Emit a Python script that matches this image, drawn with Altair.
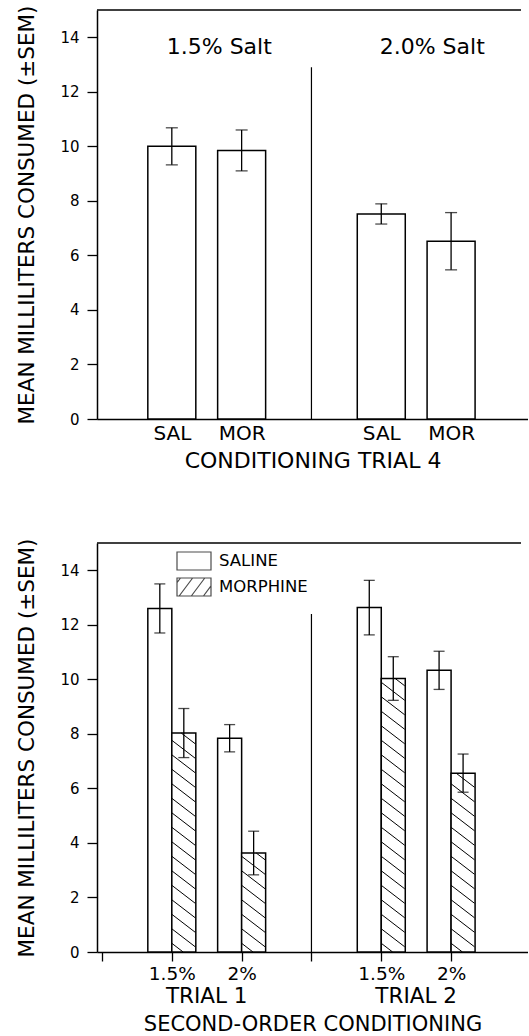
import altair as alt
import pandas as pd

# ---------------- data ----------------
top_pos = [1, 2, 4, 5]
top_drug = ["SAL", "MOR", "SAL", "MOR"]
top_mean = [10.0, 9.85, 7.52, 6.52]
top_sem = [0.68, 0.75, 0.37, 1.05]
top_titles = ["1.5% Salt", "2.0% Salt"]
top_title_pos = [1.68, 4.73]

bot_pos = [1, 2, 4, 5]
bot_conc = ["1.5%", "2%", "1.5%", "2%"]
sal_mean = [12.6, 7.84, 12.63, 10.33]
sal_sem = [0.9, 0.5, 1.0, 0.7]
mor_mean = [8.03, 3.63, 10.03, 6.56]
mor_sem = [0.9, 0.8, 0.8, 0.7]
trial_labels = ["TRIAL 1", "TRIAL 2"]
trial_pos = [1.5, 4.5]
treatments = ["SALINE", "MORPHINE"]

divider_pos = [3, 3]
divider_top = [12.9, 12.4]

y_ticks = [0, 2, 4, 6, 8, 10, 12, 14]

# ---------------- layout / style ----------------
W, H = 431, 409
XMAX, YMAX = 6.03, 15
KX, KY = W / XMAX, H / YMAX
FONT = "DejaVu Sans"
BAR_TOP = 48
BAR_BOT = 24
HATCH_GAP = 14.5
HATCH_DROP = 18.0
SPACING = 67
PANEL_SHIFT = H + 62 + SPACING  # vertical offset of the lower plot from the upper one
SYM = 18  # legend symbol height (px)

xs = alt.Scale(domain=[0, XMAX], nice=False, zero=False)
ys = alt.Scale(domain=[0, YMAX], nice=False)


def label_expr(positions, labels):
    expr = "''"
    for p, l in zip(positions, labels):
        expr = f"datum.value == {p} ? '{l}' : ({expr})"
    return expr


y_axis = alt.Axis(values=y_ticks, tickSize=10, tickWidth=1.3, domainWidth=1.5,
                  labelFontSize=15, labelPadding=8, titleFontSize=21.5,
                  titlePadding=21, grid=False,
                  title="MEAN MILLILITERS CONSUMED (±SEM)")

# ---------------- top panel ----------------
top_df = pd.DataFrame({"pos": top_pos, "drug": top_drug, "mean": top_mean, "sem": top_sem})
top_df["lo"] = top_df["mean"] - top_df["sem"]
top_df["hi"] = top_df["mean"] + top_df["sem"]

x_axis_top = alt.Axis(values=top_pos, labelExpr=label_expr(top_pos, top_drug), tickSize=0,
                      domainWidth=1.5, labelFontSize=20, labelPadding=4, labelFlush=False,
                      titleFontSize=22, titlePadding=7, grid=False,
                      title="CONDITIONING TRIAL 4")

top_bars = alt.Chart(top_df).mark_bar(size=BAR_TOP, fill="white", stroke="black",
                                      strokeWidth=1.5).encode(
    x=alt.X("pos:Q", scale=xs, axis=x_axis_top),
    y=alt.Y("mean:Q", scale=ys, axis=y_axis),
)
top_err = alt.Chart(top_df).mark_rule(color="black", strokeWidth=1.3).encode(
    x="pos:Q", y="lo:Q", y2="hi:Q")
top_caps = alt.Chart(top_df).transform_fold(["lo", "hi"], as_=["k", "v"]).mark_tick(
    orient="horizontal", size=12, thickness=1.3, color="black").encode(
    x="pos:Q", y="v:Q")


def frame_layers(idx):
    div_df = pd.DataFrame({"x": [divider_pos[idx]], "y0": [0], "top": [divider_top[idx]]})
    div = alt.Chart(div_df).mark_rule(color="black", strokeWidth=1.2).encode(
        x="x:Q", y="y0:Q", y2="top:Q")
    border = alt.Chart(div_df).mark_rule(color="black", strokeWidth=1.5).encode(
        x=alt.value(0), x2=alt.value(W - 7), y=alt.value(0))
    return div, border


t_div, t_border = frame_layers(0)
title_df = pd.DataFrame({"x": top_title_pos, "t": top_titles})
top_titles_layer = alt.Chart(title_df).mark_text(fontSize=22, font=FONT, baseline="middle").encode(
    x="x:Q", text="t:N", y=alt.value(37))

top_chart = alt.layer(top_bars, top_err, top_caps, t_div, t_border, top_titles_layer).properties(
    width=W, height=H)

# ---------------- bottom panel ----------------
sal_df = pd.DataFrame({"pos": bot_pos, "mean": sal_mean, "sem": sal_sem})
mor_df = pd.DataFrame({"pos": bot_pos, "mean": mor_mean, "sem": mor_sem})
for d in (sal_df, mor_df):
    d["lo"] = d["mean"] - d["sem"]
    d["hi"] = d["mean"] + d["sem"]

x_axis_bot = alt.Axis(values=[0, 1, 2, 3, 4, 5], labelExpr=label_expr(bot_pos, bot_conc),
                      tickSize=9, tickWidth=1.3, domainWidth=1.5, labelFontSize=18.5,
                      labelPadding=3, labelFlush=False, titleFontSize=21,
                      titlePadding=31, grid=False, title="SECOND-ORDER CONDITIONING")

# hatch segments derived from the morphine bar heights
segs = []
slope = HATCH_DROP / BAR_BOT
for p, v in zip(bot_pos, mor_mean):
    T = v * KY
    c = HATCH_GAP * 0.6
    while c - HATCH_DROP < T:
        x1, y1 = 0.0, c
        x2, y2 = BAR_BOT, c - HATCH_DROP
        if y1 > T:
            x1 = (y1 - T) / slope
            y1 = T
        if y2 < 0:
            x2 = c / slope
            y2 = 0.0
        if x2 > x1:
            segs.append({"x1": p + x1 / KX, "y1": y1 / KY, "x2": p + x2 / KX, "y2": y2 / KY})
        c += HATCH_GAP
hatch_df = pd.DataFrame(segs)

sal_bars = alt.Chart(sal_df).mark_bar(size=BAR_BOT, xOffset=-BAR_BOT / 2, fill="white",
                                      stroke="black", strokeWidth=1.5).encode(
    x=alt.X("pos:Q", scale=xs, axis=x_axis_bot),
    y=alt.Y("mean:Q", scale=ys, axis=y_axis),
)
mor_bars = alt.Chart(mor_df).mark_bar(size=BAR_BOT, xOffset=BAR_BOT / 2, fill="white",
                                      stroke="black", strokeWidth=1.5).encode(
    x="pos:Q", y="mean:Q")
hatch = alt.Chart(hatch_df).mark_rule(color="black", strokeWidth=1).encode(
    x="x1:Q", y="y1:Q", x2="x2:Q", y2="y2:Q")


def err_layers(df, off):
    r = alt.Chart(df).mark_rule(color="black", strokeWidth=1.3, xOffset=off).encode(
        x="pos:Q", y="lo:Q", y2="hi:Q")
    c = alt.Chart(df).transform_fold(["lo", "hi"], as_=["k", "v"]).mark_tick(
        orient="horizontal", size=11, thickness=1.3, color="black", xOffset=off).encode(
        x="pos:Q", y="v:Q")
    return r, c


sal_r, sal_c = err_layers(sal_df, -BAR_BOT / 2)
mor_r, mor_c = err_layers(mor_df, BAR_BOT / 2)

b_div, b_border = frame_layers(1)

trial_df = pd.DataFrame({"x": trial_pos, "t": trial_labels})
trial_text = alt.Chart(trial_df).mark_text(fontSize=21.5, font=FONT, baseline="middle").encode(
    x="x:Q", text="t:N", y=alt.value(H + 45))


# legend via custom symbol paths
def box_path(hw, hatched):
    p = f"M{-hw:.3f},-1L{hw:.3f},-1L{hw:.3f},1L{-hw:.3f},1Z"
    if hatched:
        dx, b = 1.5, -3.0
        while b < hw:
            xa, ya = b, 1.0
            xb, yb = b + dx, -1.0
            if xa < -hw:
                t = (-hw - xa) / dx
                xa, ya = -hw, 1 - 2 * t
            if xb > hw:
                t = (hw - b) / dx
                xb, yb = hw, 1 - 2 * t
            if xb > xa:
                p += f"M{xa:.3f},{ya:.3f}L{xb:.3f},{yb:.3f}"
            b += 1.35
    return p


HW = 34 / SYM
leg_df = pd.DataFrame({"treat": treatments, "x": [None, None], "y": [None, None]})
legend_layer = alt.Chart(leg_df).mark_point(filled=False, color="black", strokeWidth=1.2,
                                            size=SYM * SYM).encode(
    x="x:Q", y="y:Q",
    shape=alt.Shape("treat:N",
                    scale=alt.Scale(domain=treatments,
                                    range=[box_path(HW, False), box_path(HW, True)]),
                    legend=alt.Legend(orient="none", legendX=88 - (SYM - 16) / 2,
                                      legendY=PANEL_SHIFT + 3, title=None,
                                      symbolSize=SYM * SYM, symbolStrokeWidth=1.2,
                                      symbolStrokeColor="black", symbolFillColor="white",
                                      labelFontSize=16.5, labelFont=FONT,
                                      labelOffset=16 - (SYM - 16) / 2,
                                      rowPadding=2, padding=0)),
)

bot_chart = alt.layer(sal_bars, mor_bars, hatch, sal_r, sal_c, mor_r, mor_c,
                      b_div, b_border, trial_text, legend_layer).properties(width=W, height=H)

chart = alt.vconcat(top_chart, bot_chart, spacing=SPACING).properties(
    padding={"left": 16, "top": 5, "right": 0, "bottom": 0}
).configure_view(stroke=None).configure_axis(
    labelFont=FONT, titleFont=FONT, labelColor="black", titleColor="black",
    domainColor="black", tickColor="black", titleFontWeight="normal"
).configure_text(font=FONT, color="black").configure_legend(labelColor="black")

chart.save("out.html", embed_options={"renderer": "svg", "actions": False})
